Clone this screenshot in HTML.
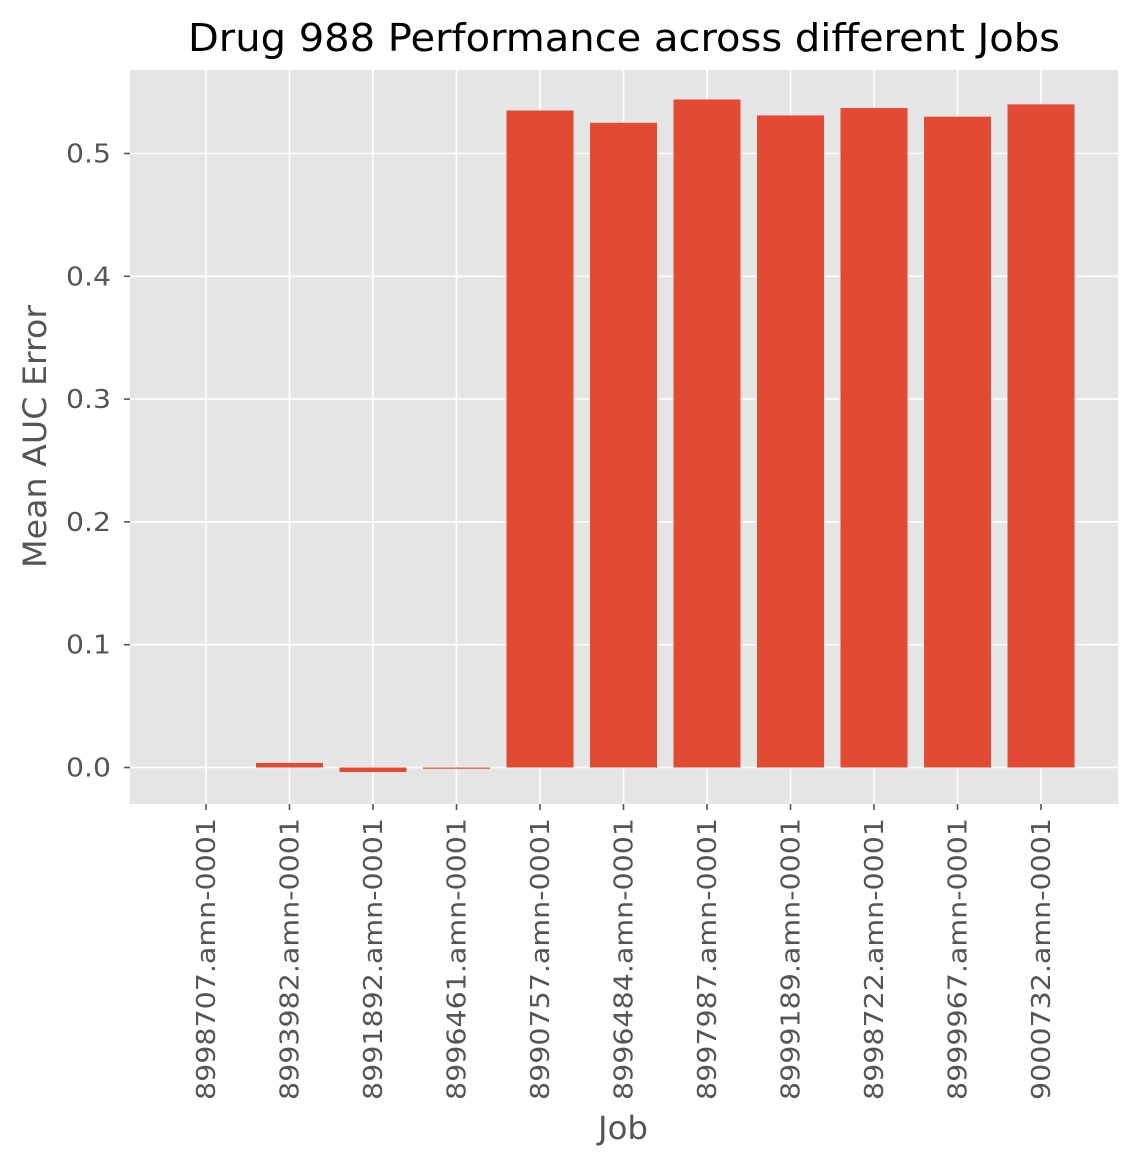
<!DOCTYPE html>
<html><head><meta charset="utf-8"><style>body{margin:0;background:#fff}svg{display:block}</style></head>
<body>
<svg id="c" width="1139" height="1164" xmlns="http://www.w3.org/2000/svg" font-family="DejaVu Sans, sans-serif"></svg>
<script>
const categories=["8998707.amn-0001","8993982.amn-0001","8991892.amn-0001","8996461.amn-0001","8990757.amn-0001","8996484.amn-0001","8997987.amn-0001","8999189.amn-0001","8998722.amn-0001","8999967.amn-0001","9000732.amn-0001"];
const values=[0.0,0.0037,-0.0037,-0.001,0.535,0.525,0.544,0.531,0.537,0.530,0.540];
const yTicks=[0.0,0.1,0.2,0.3,0.4,0.5];
const yTickLabels=["0.0","0.1","0.2","0.3","0.4","0.5"];
const svg=document.getElementById('c');const NS='http://www.w3.org/2000/svg';
const L=130,R=1118,T=70,B=804;
const y=v=>767.5-v*1228;
const x=i=>206+i*83.5;
function mk(t,a,p){const e=document.createElementNS(NS,t);for(const k in a)e.setAttribute(k,a[k]);(p||svg).appendChild(e);return e;}
let e=mk('rect',{x:L,y:T,width:R-L,height:B-T,fill:'#e5e5e5'});


yTicks.forEach((v,i)=>{
 let g=mk('line',{x1:L,x2:R,y1:y(v),y2:y(v),stroke:'#fff','stroke-width':1.6});
 
 
 mk('line',{x1:L-6,x2:L,y1:y(v),y2:y(v),stroke:'#555','stroke-width':1.6});
 let t=mk('text',{x:L-19,y:y(v)+9,'text-anchor':'end','font-size':26,fill:'#555',textLength:45,lengthAdjust:'spacingAndGlyphs'});t.textContent=yTickLabels[i];
 
 
});
categories.forEach((c,i)=>{
 let g=mk('line',{x1:x(i),x2:x(i),y1:T,y2:B,stroke:'#fff','stroke-width':1.6});
 
 
});
categories.forEach((c,i)=>{
 const v=values[i];const top=Math.min(y(v),y(0)),h=Math.abs(y(v)-y(0));
 let b=mk('rect',{x:x(i)-33.5,y:top,width:67,height:h,fill:'#e24a33'});
 
 
 mk('line',{x1:x(i),x2:x(i),y1:B,y2:B+6,stroke:'#555','stroke-width':1.6});
 let t=mk('text',{x:0,y:0,'text-anchor':'end','font-size':26,fill:'#555',textLength:282,lengthAdjust:'spacingAndGlyphs',transform:`translate(${x(i)+9},${B+14}) rotate(-90)`});t.textContent=c;
 
 
});
let t=mk('text',{x:188,y:51,'font-size':38,fill:'#000',textLength:872,lengthAdjust:'spacingAndGlyphs'});t.textContent='Drug 988 Performance across different Jobs';

t=mk('text',{x:598,y:1139,'font-size':32,fill:'#555',textLength:50,lengthAdjust:'spacingAndGlyphs'});t.textContent='Job';

t=mk('text',{x:0,y:0,'font-size':32,fill:'#555',textLength:263,lengthAdjust:'spacingAndGlyphs',transform:'translate(46,568) rotate(-90)'});t.textContent='Mean AUC Error';

</script>
</body></html>
